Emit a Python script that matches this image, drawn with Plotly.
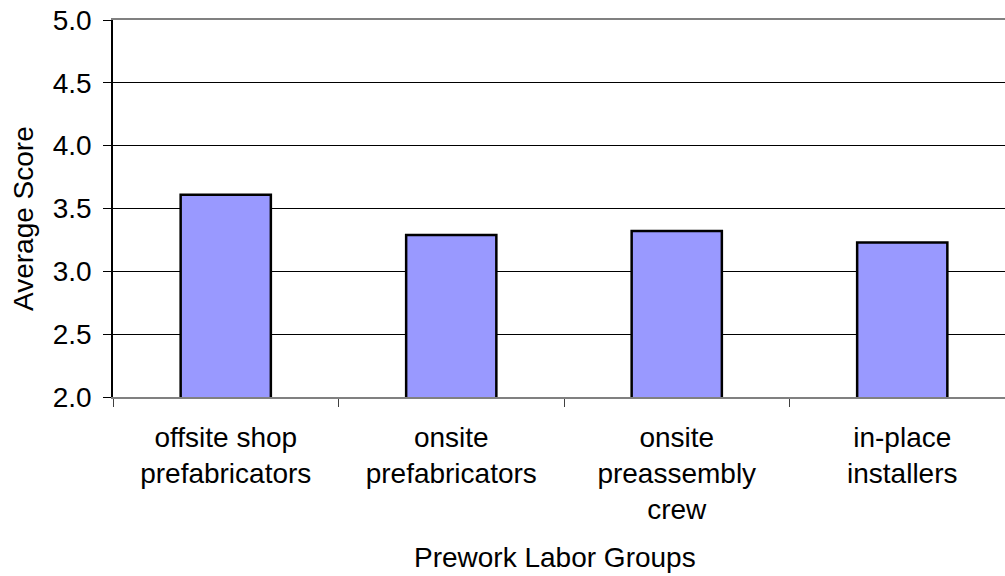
import plotly.graph_objects as go

# Prework labor groups and their average scores
groups = [
    "offsite shop<br>prefabricators",
    "onsite<br>prefabricators",
    "onsite<br>preassembly<br>crew",
    "in-place<br>installers",
]
avg_scores = [3.61, 3.29, 3.32, 3.23]

y_ticks = [2.0, 2.5, 3.0, 3.5, 4.0, 4.5, 5.0]

FONT = "Liberation Sans, Arial, sans-serif"
W, H = 1005, 576
M_L, M_R, M_T, M_B = 113, 0, 20, 179
plot_w = W - M_L - M_R
plot_h = H - M_T - M_B
cat_px = 225.5  # width of one category slot

fig = go.Figure(
    go.Bar(
        x=groups,
        y=avg_scores,
        width=0.4,
        marker=dict(color="#9999FF", line=dict(color="#000000", width=2.5)),
    )
)

fig.update_layout(
    width=W,
    height=H,
    margin=dict(l=M_L, r=M_R, t=M_T, b=M_B, autoexpand=False),
    paper_bgcolor="white",
    plot_bgcolor="white",
    showlegend=False,
    font=dict(family=FONT, size=28, color="#000000"),
)

fig.update_xaxes(
    type="category",
    range=[-0.5, -0.5 + plot_w / cat_px],
    tickson="boundaries",
    ticks="outside",
    ticklen=8,
    tickwidth=1,
    tickcolor="#404040",
    showline=True,
    linecolor="#808080",
    linewidth=2,
    mirror=True,
    showgrid=False,
    tickfont=dict(family=FONT, size=28, color="#000000"),
    ticklabelstandoff=14,
)

fig.update_yaxes(
    range=[2.0, 5.0],
    tickvals=y_ticks,
    ticktext=[f"{v:.1f}" for v in y_ticks],
    ticks="outside",
    ticklen=8,
    tickwidth=1,
    tickcolor="#000000",
    showline=True,
    linecolor="#000000",
    linewidth=1.5,
    showgrid=True,
    gridcolor="#000000",
    gridwidth=1,
    zeroline=False,
    tickfont=dict(family=FONT, size=28, color="#000000"),
    ticklabelstandoff=6,
)

fig.add_annotation(
    text="Prework Labor Groups",
    xref="paper", yref="paper",
    x=(555 - M_L) / plot_w, y=(M_T + plot_h - 557) / plot_h,
    xanchor="center", yanchor="middle",
    showarrow=False,
    font=dict(family=FONT, size=28, color="#000000"),
)
fig.add_annotation(
    text="Average Score",
    xref="paper", yref="paper",
    x=(23 - M_L) / plot_w, y=(M_T + plot_h - 219) / plot_h,
    xanchor="center", yanchor="middle",
    textangle=-90,
    showarrow=False,
    font=dict(family=FONT, size=28, color="#000000"),
)

fig.write_html("out.html")
